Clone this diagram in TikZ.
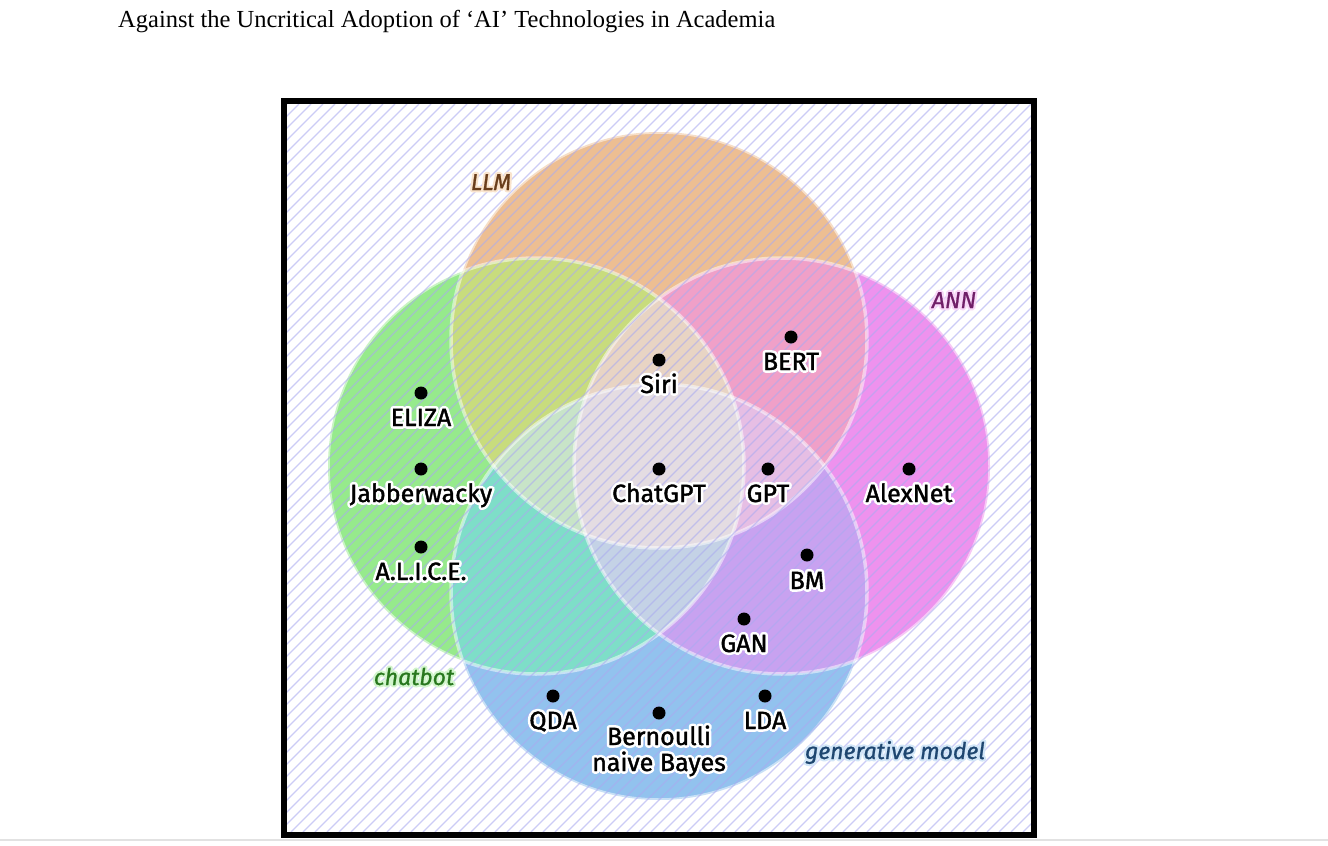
\documentclass[tikz,border=0pt]{standalone}
\usepackage{fontspec}
\setmainfont{Liberation Serif}
\newfontfamily\labfont[FakeBold=1.5]{Fira Sans}
\newfontfamily\labhalo[FakeBold=22]{Fira Sans}
\newfontfamily\catfont[FakeBold=1]{Fira Sans Italic}
\newfontfamily\cathalo[FakeBold=20]{Fira Sans Italic}
\definecolor{cL}{RGB}{237,190,146}
\definecolor{cC}{RGB}{150,234,140}
\definecolor{cA}{RGB}{238,146,238}
\definecolor{cG}{RGB}{146,194,238}
\definecolor{cLC}{RGB}{200,220,125}
\definecolor{cLA}{RGB}{240,160,200}
\definecolor{cCG}{RGB}{126,222,200}
\definecolor{cAG}{RGB}{200,162,240}
\definecolor{cLCA}{RGB}{232,212,196}
\definecolor{cLAG}{RGB}{230,190,228}
\definecolor{cCAG}{RGB}{196,210,230}
\definecolor{cLCG}{RGB}{200,228,200}
\definecolor{cAll}{RGB}{228,220,226}
\definecolor{hatchc}{RGB}{170,170,240}
\definecolor{tL}{RGB}{105,62,28}
\definecolor{tA}{RGB}{112,30,104}
\definecolor{tC}{RGB}{40,120,30}
\definecolor{tG}{RGB}{30,70,112}
\definecolor{hL}{RGB}{250,228,205}
\definecolor{hA}{RGB}{248,215,248}
\definecolor{hC}{RGB}{210,245,205}
\definecolor{hG}{RGB}{210,230,248}
\definecolor{pagegray}{RGB}{226,226,226}
\newcommand\rj{\special{pdf:literal direct 1 j 1 J}}
\newcommand\lab[1]{\rj\rlap{\color{white}\labhalo #1}{\color{black}\labfont #1}}
\newcommand\cat[3]{\rj\rlap{\color{#1}\cathalo #3}{\color{#2}\catfont #3}}
\tikzset{
  dot/.style={circle,fill=black,inner sep=0pt,minimum size=13pt},
  labtext/.style={font=\fontsize{25}{26}\selectfont,inner sep=0pt,anchor=base},
  cattext/.style={font=\fontsize{23}{26}\selectfont,inner sep=0pt,anchor=base},
  cborder/.style={draw=white,draw opacity=0.5,line width=3.5pt},
  hatch/.style={draw=hatchc,draw opacity=0.6,line width=1.2pt},
  frame/.style={draw=black,line width=6pt,line join=miter}
}
\begin{document}
\begin{tikzpicture}[x=1pt,y=-1pt]
\useasboundingbox (0,0) rectangle (1328,846);
\fill[white] (0,0) rectangle (1328,846);
\def\r{208}
\coordinate (oL) at (659,340);
\coordinate (oC) at (536,466);
\coordinate (oA) at (782,466);
\coordinate (oG) at (659,592);
% title
\node[anchor=base west,inner sep=0pt] (title) at (118,27)
  {\resizebox{657pt}{!}{Against the Uncritical Adoption of ‘AI’ Technologies in Academia}};
% single circles
\fill[cL] (oL) circle[radius=\r];
\fill[cC] (oC) circle[radius=\r];
\fill[cA] (oA) circle[radius=\r];
\fill[cG] (oG) circle[radius=\r];
% pairs
\begin{scope}\clip (oL) circle[radius=\r]; \fill[cLC] (oC) circle[radius=\r];\end{scope}
\begin{scope}\clip (oL) circle[radius=\r]; \fill[cLA] (oA) circle[radius=\r];\end{scope}
\begin{scope}\clip (oC) circle[radius=\r]; \fill[cCG] (oG) circle[radius=\r];\end{scope}
\begin{scope}\clip (oA) circle[radius=\r]; \fill[cAG] (oG) circle[radius=\r];\end{scope}
% triples
\begin{scope}\clip (oL) circle[radius=\r]; \clip (oC) circle[radius=\r]; \fill[cLCA] (oA) circle[radius=\r];\end{scope}
\begin{scope}\clip (oL) circle[radius=\r]; \clip (oA) circle[radius=\r]; \fill[cLAG] (oG) circle[radius=\r];\end{scope}
\begin{scope}\clip (oC) circle[radius=\r]; \clip (oA) circle[radius=\r]; \fill[cCAG] (oG) circle[radius=\r];\end{scope}
\begin{scope}\clip (oL) circle[radius=\r]; \clip (oC) circle[radius=\r]; \fill[cLCG] (oG) circle[radius=\r];\end{scope}
% all four
\begin{scope}\clip (oL) circle[radius=\r]; \clip (oC) circle[radius=\r]; \clip (oA) circle[radius=\r]; \fill[cAll] (oG) circle[radius=\r];\end{scope}
% borders
\draw[cborder] (oL) circle[radius=\r];
\draw[cborder] (oC) circle[radius=\r];
\draw[cborder] (oA) circle[radius=\r];
\draw[cborder] (oG) circle[radius=\r];
% hatch
\begin{scope}
\clip (287,104) rectangle (1031,832);
\foreach \k in {0,...,125} \draw[hatch] ({-441+\k*12},832) -- ++(728,-728);
\end{scope}
% frame
\draw[frame] (284,101) rectangle (1034,835);
\draw[pagegray,line width=2pt] (0,840) -- (1328,840);
% category labels
\node[cattext] (catL) at (491,190) {\cat{hL}{tL}{LLM}};
\node[cattext] (catA) at (954,308) {\cat{hA}{tA}{ANN}};
\node[cattext] (catC) at (414,685) {\cat{hC}{tC}{chatbot}};
\node[cattext] (catG) at (895,759) {\cat{hG}{tG}{generative model}};
% items
\node[dot] (siri) at (659,360) {};
\node[labtext] (siriL) at ([yshift=-33pt]siri.center) {\lab{Siri}};
\node[dot] (bert) at (791,337) {};
\node[labtext] (bertL) at ([yshift=-33pt]bert.center) {\lab{BERT}};
\node[dot] (eliza) at (421,393) {};
\node[labtext] (elizaL) at ([yshift=-33pt]eliza.center) {\lab{ELIZA}};
\node[dot] (jab) at (421,469) {};
\node[labtext] (jabL) at ([yshift=-33pt]jab.center) {\lab{Jabberwacky}};
\node[dot] (chatgpt) at (659,469) {};
\node[labtext] (chatgptL) at ([yshift=-33pt]chatgpt.center) {\lab{ChatGPT}};
\node[dot] (gpt) at (768,469) {};
\node[labtext] (gptL) at ([yshift=-33pt]gpt.center) {\lab{GPT}};
\node[dot] (alex) at (909,469) {};
\node[labtext] (alexL) at ([yshift=-33pt]alex.center) {\lab{AlexNet}};
\node[dot] (alice) at (421,547) {};
\node[labtext] (aliceL) at ([yshift=-33pt]alice.center) {\lab{A.L.I.C.E.}};
\node[dot] (bm) at (807,555) {};
\node[labtext] (bmL) at ([yshift=-34pt]bm.center) {\lab{BM}};
\node[dot] (gan) at (744,619) {};
\node[labtext] (ganL) at ([yshift=-33pt]gan.center) {\lab{GAN}};
\node[dot] (qda) at (553,696) {};
\node[labtext] (qdaL) at ([yshift=-33pt]qda.center) {\lab{QDA}};
\node[dot] (lda) at (765,696) {};
\node[labtext] (ldaL) at ([yshift=-33pt]lda.center) {\lab{LDA}};
\node[dot] (bnb) at (659,713) {};
\node[labtext] (bnbL1) at ([yshift=-32pt]bnb.center) {\lab{Bernoulli}};
\node[labtext] (bnbL2) at ([yshift=-26pt]bnbL1.base) {\lab{naive Bayes}};
\end{tikzpicture}
\end{document}
